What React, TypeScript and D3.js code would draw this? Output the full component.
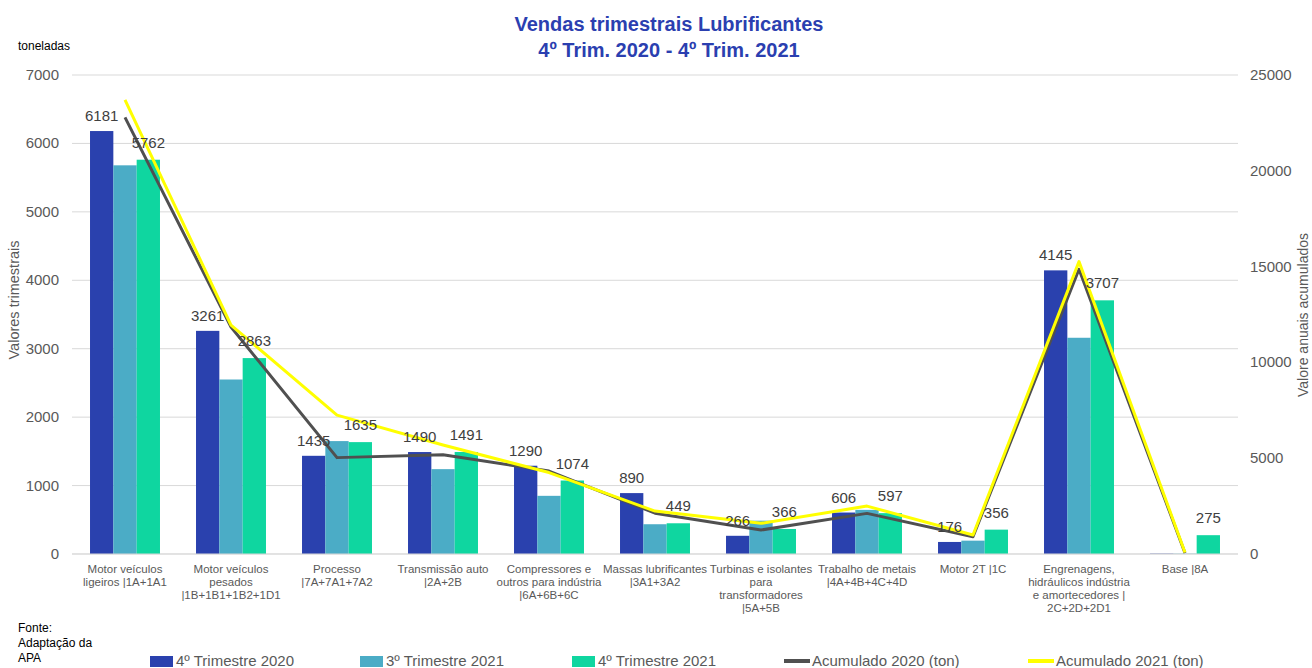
import React from 'react';
import * as d3 from 'd3';

// dimensões
const W = 1312;
const H = 668;
const left = 72;
const right = 1238;
const top = 75;
const bottom = 554;

const FONT = '"Liberation Sans", Arial, sans-serif';

// categorias (linhas de texto do eixo)
const categories = [
  ['Motor veículos', 'ligeiros |1A+1A1'],
  ['Motor veículos', 'pesados', '|1B+1B1+1B2+1D1'],
  ['Processo', '|7A+7A1+7A2'],
  ['Transmissão auto', '|2A+2B'],
  ['Compressores e', 'outros para indústria', '|6A+6B+6C'],
  ['Massas lubrificantes', '|3A1+3A2'],
  ['Turbinas e isolantes', 'para', 'transformadores', '|5A+5B'],
  ['Trabalho de metais', '|4A+4B+4C+4D'],
  ['Motor 2T |1C'],
  ['Engrenagens,', 'hidráulicos indústria', 'e amortecedores |', '2C+2D+2D1'],
  ['Base |8A'],
];

// valores trimestrais (toneladas)
const t4_2020 = [6181, 3261, 1435, 1490, 1290, 890, 266, 606, 176, 4145, 5];
const t3_2021 = [5680, 2550, 1650, 1240, 850, 435, 487, 645, 195, 3160, 4];
const t4_2021 = [5762, 2863, 1635, 1491, 1074, 449, 366, 597, 356, 3707, 275];

// acumulados anuais (eixo direito)
const acum2020 = [22790, 11850, 5030, 5180, 4330, 2130, 1250, 2120, 905, 14860, 50];
const acum2021 = [23700, 11950, 7250, 5690, 4250, 2240, 1600, 2500, 990, 15260, 80];

const leftTicks = [0, 1000, 2000, 3000, 4000, 5000, 6000, 7000];
const rightTicks = [0, 5000, 10000, 15000, 20000, 25000];

const barSeries = [
  { name: '4º Trimestre 2020', values: t4_2020, color: '#2A41AE', label: true },
  { name: '3º Trimestre 2021', values: t3_2021, color: '#4BACC6', label: false },
  { name: '4º Trimestre 2021', values: t4_2021, color: '#0FD6A0', label: true },
];

const lineSeries = [
  { name: 'Acumulado 2020 (ton)', values: acum2020, color: '#505050' },
  { name: 'Acumulado 2021 (ton)', values: acum2021, color: '#FFFF00' },
];

export default function App() {
  const idx = categories.map((_, i) => i);

  const x = d3.scaleBand<number>().domain(idx).range([left, right]).paddingInner(0.34).paddingOuter(0.17);
  const xSub = d3.scaleBand<number>().domain([0, 1, 2]).range([0, x.bandwidth()]);
  const yL = d3.scaleLinear().domain([0, 7000]).range([bottom, top]);
  const yR = d3.scaleLinear().domain([0, 25000]).range([bottom, top]);

  const cx = (i: number) => (x(i) as number) + x.bandwidth() / 2;

  const line = d3
    .line<number>()
    .x((_, i) => cx(i))
    .y((d) => yR(d));

  const legendItems = [
    { x: 150, kind: 'rect', color: barSeries[0].color, text: barSeries[0].name },
    { x: 360, kind: 'rect', color: barSeries[1].color, text: barSeries[1].name },
    { x: 572, kind: 'rect', color: barSeries[2].color, text: barSeries[2].name },
    { x: 784, kind: 'line', color: lineSeries[0].color, text: lineSeries[0].name },
    { x: 1028, kind: 'line', color: lineSeries[1].color, text: lineSeries[1].name },
  ];

  return (
    <div style={{ position: 'absolute', left: 0, top: 0 }}>
      <svg width={W} height={H} style={{ display: 'block', fontFamily: FONT }}>
        <rect width={W} height={H} fill="#fff" />

        {/* título */}
        <text x={669} y={31} textAnchor="middle" fontSize={20} fontWeight="bold" fill="#2B3FB0">
          Vendas trimestrais Lubrificantes
        </text>
        <text x={669} y={57} textAnchor="middle" fontSize={20} fontWeight="bold" fill="#2B3FB0">
          4º Trim. 2020 - 4º Trim. 2021
        </text>

        <text x={18} y={50} fontSize={12} fill="#000">toneladas</text>

        {/* grelha e eixo esquerdo */}
        {leftTicks.map((t) => (
          <g key={'l' + t}>
            <line x1={left} x2={right} y1={yL(t)} y2={yL(t)} stroke="#D9D9D9" strokeWidth={1} />
            <text x={59} y={yL(t) + 5} textAnchor="end" fontSize={15} fill="#595959">{t}</text>
          </g>
        ))}
        {rightTicks.map((t) => (
          <text key={'r' + t} x={1250} y={yR(t) + 5} fontSize={15} fill="#595959">{t}</text>
        ))}

        <text transform={`translate(19,300) rotate(-90)`} textAnchor="middle" fontSize={14.5} fill="#595959">
          Valores trimestrais
        </text>
        <text transform={`translate(1308,315) rotate(-90)`} textAnchor="middle" fontSize={14} fill="#595959">
          Valore anuais acumulados
        </text>

        {/* barras */}
        {barSeries.map((s, si) =>
          s.values.map((v, i) => (
            <rect
              key={si + '-' + i}
              x={(x(i) as number) + (xSub(si) as number)}
              y={yL(v)}
              width={xSub.bandwidth()}
              height={bottom - yL(v)}
              fill={s.color}
            />
          ))
        )}

        <line x1={left} x2={right} y1={bottom} y2={bottom} stroke="#D9D9D9" strokeWidth={1} />

        {/* linhas acumuladas */}
        {lineSeries.map((s) => (
          <path key={s.name} d={line(s.values) || ''} fill="none" stroke={s.color} strokeWidth={3} strokeLinejoin="round" />
        ))}

        {/* rótulos de dados */}
        {barSeries.map((s, si) =>
          s.label
            ? s.values.map((v, i) =>
                v > 100 ? (
                  <text
                    key={'lab' + si + '-' + i}
                    x={(x(i) as number) + (xSub(si) as number) + xSub.bandwidth() / 2}
                    y={yL(v) - (si === 0 ? 10 : 12)}
                    textAnchor="middle"
                    fontSize={15}
                    fill="#404040"
                  >
                    {v}
                  </text>
                ) : null
              )
            : null
        )}

        {/* categorias */}
        {categories.map((lines, i) => (
          <text key={'c' + i} x={cx(i)} y={573} textAnchor="middle" fontSize={11.5} fill="#595959">
            {lines.map((ln, k) => (
              <tspan key={k} x={cx(i)} dy={k === 0 ? 0 : 13}>{ln}</tspan>
            ))}
          </text>
        ))}

        {/* fonte */}
        <text x={18} y={632} fontSize={12} fill="#000">Fonte:</text>
        <text x={18} y={647} fontSize={12} fill="#000">Adaptação da</text>
        <text x={18} y={662} fontSize={12} fill="#000">APA</text>

        {/* legenda */}
        {legendItems.map((it) => (
          <g key={it.text}>
            {it.kind === 'rect' ? (
              <rect x={it.x} y={656} width={23} height={11} fill={it.color} />
            ) : (
              <line x1={it.x} x2={it.x + 26} y1={661} y2={661} stroke={it.color} strokeWidth={4} />
            )}
            <text x={it.kind === 'rect' ? it.x + 26 : it.x + 28} y={666} fontSize={15} fill="#595959">
              {it.text}
            </text>
          </g>
        ))}
      </svg>
    </div>
  );
}
